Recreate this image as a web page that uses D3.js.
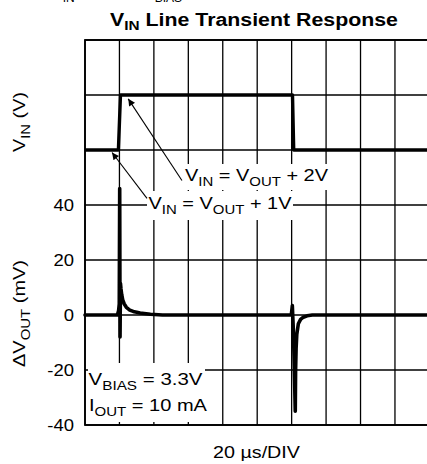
<!DOCTYPE html>
<html><head><meta charset="utf-8">
<script src="https://cdn.jsdelivr.net/npm/d3@7"></script>
<style>
body{margin:0;background:#fff}
svg{display:block}
text{font-family:"Liberation Sans",Arial,Helvetica,sans-serif;fill:#000}
</style>
</head><body>
<svg id="c" width="427" height="464"></svg>
<script>
// ---------------- data ----------------
const timeTicks = [0,20,40,60,80,100,120,140,160,180,200];      // µs, 20 µs/DIV
const mvGrid = [-40,-20,0,20,40,60,80,100];                       // grid rows (mV)
const mvTickLabels = [40,20,0,-20,-40];                           // labelled ticks

// VIN trace: volts above VOUT
const vinTime  = [0, 19.4, 20.6, 120.5, 121.2, 200];
const vinVolts = [1,  1,    2,    2,     1,     1];

// ΔVOUT trace (mV)
const doutTime = [0, 18.8, 19.5, 19.9, 20.15, 20.35, 20.6, 20.9, 21.3, 21.9, 22.8, 24, 26, 28, 32, 38, 45,
                  119.8, 120.4, 120.9, 121.4, 122.1, 122.3, 122.6, 123.0, 123.9, 125.2, 126.8, 129, 132, 200];
const doutMv   = [0, 0,    1.5,  4,    46,    -8,    11.5, 9.5,  7.5,  5.5,  4,    2.8, 1.8, 1.3, 0.7, 0.3, 0,
                  0,     3.4,   -4,    -15,   -35,   -20,   -12,   -7,    -3.2,  -1.6,  -0.8,  -0.3, 0, 0];

// annotation arrows (tail -> tip), in data units (µs, mV)
const arrows = [
  {t0:56.3, v0:48.9, t1:25.1, v1:78.6},
  {t0:36.0, v0:42.4, t1:15.7, v1:59.1}
];

// ---------------- layout ----------------
const svg = d3.select("#c");
const x = d3.scaleLinear().domain([0,200]).range([85,429.4]);
const y = d3.scaleLinear().domain([-40,100]).range([425,40]);
const vinY = d3.scaleLinear().domain([0,3]).range([y(40), y(100)]);

// grid
const grid = svg.append("g").attr("stroke","#000").attr("stroke-width",1.3);
grid.selectAll("line.v").data(timeTicks).join("line")
  .attr("x1",d=>x(d)).attr("x2",d=>x(d)).attr("y1",y(100)).attr("y2",y(-40));
grid.selectAll("line.h").data(mvGrid).join("line")
  .attr("x1",x(0)).attr("x2",x(200)).attr("y1",d=>y(d)).attr("y2",d=>y(d));
// border
svg.append("rect").attr("x",x(0)).attr("y",y(100)).attr("width",x(200)-x(0)).attr("height",y(-40)-y(100))
  .attr("fill","none").attr("stroke","#000").attr("stroke-width",1.8);

// white text backgrounds
const bgs = [[183,164,147,26],[147,191,146,29],[88,363,117,59]];
svg.selectAll("rect.bg").data(bgs).join("rect")
  .attr("x",d=>d[0]).attr("y",d=>d[1]).attr("width",d=>d[2]).attr("height",d=>d[3]).attr("fill","#fff");

// traces
const vinLine = d3.line().x(d=>x(d[0])).y(d=>vinY(d[1]));
svg.append("path").attr("d", vinLine(vinTime.map((t,i)=>[t,vinVolts[i]])))
  .attr("fill","none").attr("stroke","#000").attr("stroke-width",3.4).attr("stroke-linejoin","round");
const doutLine = d3.line().x(d=>x(d[0])).y(d=>y(d[1]));
svg.append("path").attr("d", doutLine(doutTime.map((t,i)=>[t,doutMv[i]])))
  .attr("fill","none").attr("stroke","#000").attr("stroke-width",3.6).attr("stroke-linejoin","round").attr("stroke-linecap","round");

// arrows
svg.append("defs").append("marker").attr("id","ah").attr("viewBox","0 0 10 10")
  .attr("refX",10).attr("refY",5).attr("markerWidth",10).attr("markerHeight",7)
  .attr("markerUnits","userSpaceOnUse").attr("orient","auto")
  .append("path").attr("d","M0,0L10,5L0,10Z").attr("fill","#000");
svg.selectAll("line.arr").data(arrows).join("line")
  .attr("x1",d=>x(d.t0)).attr("y1",d=>y(d.v0)).attr("x2",d=>x(d.t1)).attr("y2",d=>y(d.v1))
  .attr("stroke","#000").attr("stroke-width",1.1).attr("marker-end","url(#ah)");

// ---------------- text helper ----------------
function label(parts, o){
  const g = svg.append("g");
  const t = g.append("text").attr("font-size",o.size).attr("font-weight",o.weight||"normal")
    .attr("text-anchor",o.anchor||"start");
  let shift = 0;
  parts.forEach(p=>{
    const s = p.sub ? (o.subShift||5) : 0;
    t.append("tspan").text(p.t).attr("dy", s-shift).attr("font-size", p.sub ? o.size*(o.subScale||0.75) : o.size);
    shift = s;
  });
  let sx = o.sx || 1;
  if (o.width) sx = o.width / t.node().getComputedTextLength();
  g.attr("transform", `translate(${o.x},${o.y})` + (o.rotate?` rotate(${o.rotate})`:"") + ` scale(${sx},1)`);
  return g;
}
const S = s=>({t:s}), B = s=>({t:s,sub:true});

// cut-off text at the very top
label([S("V"),B("IN"),S("   =  3.5V  +  V"),B("BIAS")], {x:52,y:-3,size:16,subShift:4.5});

// title
label([S("V"),B("IN"),S(" Line Transient Response")], {x:254,y:26,size:19,weight:"bold",anchor:"middle",width:288,subShift:3.5,subScale:0.72});

// annotations
label([S("V"),B("IN"),S(" = V"),B("OUT"),S(" + 2V")], {x:185,y:181,size:16.5,width:143});
label([S("V"),B("IN"),S(" = V"),B("OUT"),S(" + 1V")], {x:148.5,y:208.5,size:16.5,width:143});
label([S("V"),B("BIAS"),S(" = 3.3V")], {x:88.5,y:384.5,size:16.5,width:114});
label([S("I"),B("OUT"),S(" = 10 mA")], {x:89,y:411,size:16.5,width:118});

// tick labels
mvTickLabels.forEach(v=>{
  label([S(String(v))], {x:74,y:y(v)+6,size:16.5,anchor:"end",sx:1.12});
});

// axis titles
label([S("V"),B("IN"),S(" (V)")], {x:25,y:122,size:16.5,anchor:"middle",rotate:-90,width:60});
label([S("ΔV"),B("OUT"),S(" (mV)")], {x:25,y:313.5,size:16.5,anchor:"middle",rotate:-90,width:107});
label([S("20 µs/DIV")], {x:256.5,y:458,size:16.5,anchor:"middle",width:87});
</script>
</body></html>
